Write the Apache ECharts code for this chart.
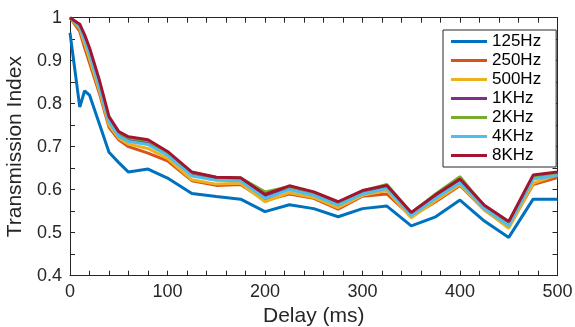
<!DOCTYPE html>
<html>
<head>
<meta charset="utf-8">
<title>Transmission Index vs Delay</title>
<script src="https://cdn.jsdelivr.net/npm/echarts@6/dist/echarts.min.js"></script>
<style>
  html, body { margin: 0; padding: 0; background: #fff; }
  #chart { width: 575px; height: 327px; }
</style>
</head>
<body>
<div id="chart"></div>
<script>
// delay values (ms) shared by every curve
const delays = [0, 10, 15, 20, 30, 40, 50, 60, 80, 100, 125, 150, 175, 200, 225, 250, 275, 300, 325, 350, 375, 400, 425, 450, 475, 500];

// transmission index per frequency band
const ti125 = [0.965, 0.792, 0.83, 0.82, 0.754, 0.687, 0.663, 0.641, 0.648, 0.627, 0.591, 0.584, 0.578, 0.549, 0.565, 0.556, 0.537, 0.556, 0.562, 0.516, 0.537, 0.576, 0.527, 0.489, 0.578, 0.578];
const ti250 = [1.0, 0.968, 0.93, 0.895, 0.825, 0.745, 0.716, 0.7, 0.685, 0.667, 0.621, 0.61, 0.612, 0.575, 0.59, 0.58, 0.555, 0.585, 0.59, 0.538, 0.572, 0.61, 0.553, 0.513, 0.612, 0.628];
const ti500 = [1.0, 0.975, 0.94, 0.905, 0.832, 0.75, 0.72, 0.706, 0.696, 0.673, 0.623, 0.613, 0.615, 0.572, 0.593, 0.582, 0.558, 0.587, 0.598, 0.535, 0.575, 0.612, 0.553, 0.51, 0.615, 0.635];
const ti1k  = [1.0, 0.98, 0.952, 0.92, 0.845, 0.762, 0.728, 0.716, 0.71, 0.683, 0.635, 0.624, 0.623, 0.584, 0.604, 0.59, 0.567, 0.594, 0.606, 0.542, 0.584, 0.62, 0.558, 0.52, 0.628, 0.636];
const ti2k  = [1.0, 0.982, 0.955, 0.925, 0.85, 0.766, 0.732, 0.72, 0.714, 0.686, 0.64, 0.629, 0.627, 0.595, 0.607, 0.594, 0.571, 0.597, 0.612, 0.546, 0.59, 0.63, 0.561, 0.522, 0.63, 0.638];
const ti4k  = [1.0, 0.978, 0.948, 0.915, 0.84, 0.758, 0.724, 0.712, 0.705, 0.68, 0.632, 0.622, 0.621, 0.58, 0.6, 0.587, 0.564, 0.59, 0.603, 0.54, 0.58, 0.617, 0.556, 0.516, 0.625, 0.633];
const ti8k  = [1.0, 0.985, 0.96, 0.93, 0.856, 0.77, 0.735, 0.723, 0.716, 0.689, 0.641, 0.629, 0.628, 0.589, 0.609, 0.595, 0.572, 0.598, 0.61, 0.547, 0.588, 0.625, 0.564, 0.526, 0.634, 0.641];

const bandNames = ['125Hz', '250Hz', '500Hz', '1KHz', '2KHz', '4KHz', '8KHz'];
const bandValues = [ti125, ti250, ti500, ti1k, ti2k, ti4k, ti8k];
const bandColors = ['#0072BD', '#D95319', '#EDB120', '#7E2F8E', '#77AC30', '#4DBEEE', '#A2142F'];

const FONT = '"Liberation Sans", Arial, Helvetica, sans-serif';
const INK = '#262626';

const chart = echarts.init(document.getElementById('chart'), null, { renderer: 'canvas' });

// shared look for the boxed MATLAB-style axes
const tickStyle = {
  axisLine: { show: true, onZero: false, lineStyle: { color: INK, width: 1 } },
  axisTick: { show: true, inside: true, length: 5, lineStyle: { color: INK } },
  splitLine: { show: false },
};

const series = bandNames.map((name, i) => ({
  name,
  type: 'line',
  data: delays.map((d, j) => [d, bandValues[i][j]]),
  showSymbol: false,
  symbol: 'none',
  lineStyle: { width: 3, color: bandColors[i] },
  itemStyle: { color: bandColors[i] },
  z: 2 + i,
  animation: false,
}));

chart.setOption({
  backgroundColor: '#fff',
  animation: false,
  textStyle: { fontFamily: FONT },
  grid: { left: 70, right: 17.5, top: 17.7, bottom: 51.3, outerBoundsMode: 'none', containLabel: false },
  legend: {
    orient: 'vertical',
    left: 443,
    top: 30,
    icon: 'rect',
    itemWidth: 36,
    itemHeight: 3,
    itemGap: 0,
    padding: [2, 15, 2, 8],
    backgroundColor: '#fff',
    borderColor: INK,
    borderWidth: 1,
    textStyle: { fontFamily: FONT, fontSize: 17, color: '#000', lineHeight: 19 },
    data: bandNames,
  },
  xAxis: [
    {
      type: 'value', position: 'bottom', min: 0, max: 500, interval: 100,
      minorTick: { show: true, splitNumber: 5, length: 5, lineStyle: { color: INK } },
      axisLine: tickStyle.axisLine, axisTick: tickStyle.axisTick, splitLine: tickStyle.splitLine,
      axisLabel: { color: INK, fontSize: 18, margin: 7, fontFamily: FONT },
      name: 'Delay (ms)', nameLocation: 'middle', nameGap: 24,
      nameTextStyle: { color: INK, fontSize: 21, fontFamily: FONT },
    },
    {
      type: 'value', position: 'top', min: 0, max: 500, interval: 100,
      minorTick: { show: true, splitNumber: 5, length: 5, lineStyle: { color: INK } },
      axisLine: tickStyle.axisLine, axisTick: tickStyle.axisTick, splitLine: tickStyle.splitLine,
      axisLabel: { show: false },
    },
  ],
  yAxis: [
    {
      type: 'value', position: 'left', min: 0.4, max: 1, interval: 0.1,
      minorTick: { show: true, splitNumber: 2, length: 5, lineStyle: { color: INK } },
      axisLine: tickStyle.axisLine, axisTick: tickStyle.axisTick, splitLine: tickStyle.splitLine,
      axisLabel: { color: INK, fontSize: 18, margin: 8, fontFamily: FONT },
      name: 'Transmission Index', nameLocation: 'middle', nameGap: 40,
      nameTextStyle: { color: INK, fontSize: 21, fontFamily: FONT },
    },
    {
      type: 'value', position: 'right', min: 0.4, max: 1, interval: 0.1,
      minorTick: { show: true, splitNumber: 2, length: 5, lineStyle: { color: INK } },
      axisLine: tickStyle.axisLine, axisTick: tickStyle.axisTick, splitLine: tickStyle.splitLine,
      axisLabel: { show: false },
    },
  ],
  series,
});
</script>
</body>
</html>
